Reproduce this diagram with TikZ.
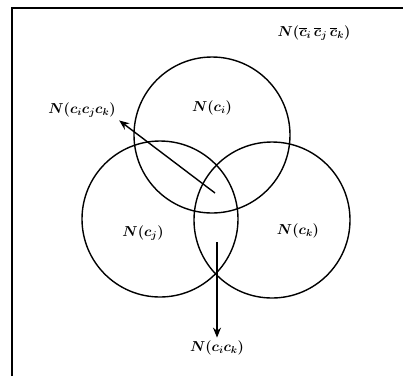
\documentclass[tikz,border=0pt]{standalone}
\usepackage{amsmath,amssymb}
\usepackage{bm}
\usetikzlibrary{arrows.meta}

\tikzset{
  setc/.style={circle,draw,line width=1.4pt,minimum size=156pt,inner sep=0pt},
  lbl/.style={font=\Large\boldmath,inner sep=1pt},
}

\begin{document}
\begin{tikzpicture}[x=1pt,y=-1pt,>={Stealth[length=10pt,width=8pt]}]
  \useasboundingbox (0,0) rectangle (403,376);
  % frame
  \draw[line width=1.4pt] (12,376) -- (12,8) -- (403,8);
  % the three sets
  \node[setc] (ci) at (212,135) {};
  \node[setc] (cj) at (160,219) {};
  \node[setc] (ck) at (272,220) {};
  \node[lbl] (nci) at (212,108) {$N(c_i)$};
  \node[lbl] (ncj) at (143,233) {$N(c_j)$};
  \node[lbl] (nck) at (298,231) {$N(c_k)$};
  \node[lbl] (nbar) at (314,33) {$N(\overline{c}_i\,\overline{c}_j\,\overline{c}_k)$};
  \node[lbl] (nijk) at (82,110) {$N(c_i c_j c_k)$};
  \node[lbl] (nik) at (217,348) {$N(c_i c_k)$};
  \coordinate (pijk) at (215,193);
  \coordinate (pik) at (217,242);
  \draw[line width=1.4pt,->,shorten >=3pt] (pijk) -- (nijk.south east);
  \draw[line width=1.4pt,->,shorten >=2pt] (pik) -- (nik.north);
\end{tikzpicture}
\end{document}
